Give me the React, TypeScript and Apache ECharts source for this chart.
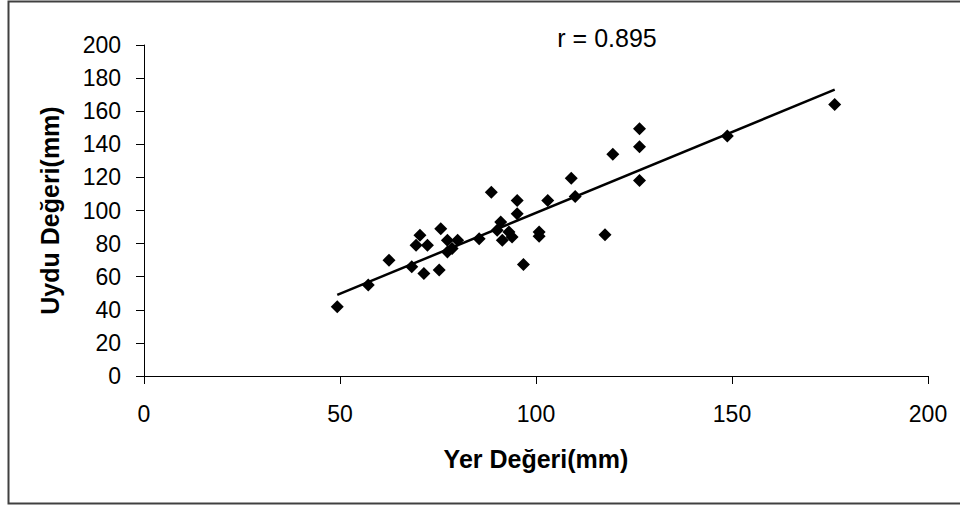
import React, { useEffect, useRef } from "react";
import * as echarts from "echarts";

const xValues = [
  49.3, 57.2, 62.5, 68.3, 69.4, 70.4, 71.4, 72.3, 75.3, 75.7, 77.4, 77.4, 78.6, 80.0,
  85.5, 88.6, 90.1, 91.0, 91.4, 93.1, 93.9, 95.2, 95.2, 96.8, 100.8, 100.8, 103.0,
  109.0, 110.0, 117.6, 119.6, 126.4, 126.4, 126.4, 148.8, 176.2,
];
const yValues = [
  41.8, 55.0, 70.0, 66.0, 79.0, 85.0, 62.0, 79.0, 64.0, 89.0, 82.0, 75.0, 77.0, 82.0,
  83.0, 111.0, 88.0, 93.0, 82.0, 87.0, 84.0, 98.0, 106.0, 67.4, 87.0, 84.5, 106.0,
  119.5, 108.5, 85.4, 134.0, 149.4, 138.5, 118.2, 145.0, 164.0,
];
const trendX = [49.3, 176.2];
const trendY = [49.0, 173.0];
const xTicks = [0, 50, 100, 150, 200];
const yTicks = [0, 20, 40, 60, 80, 100, 120, 140, 160, 180, 200];
const rLabel = "r = 0.895";
const xName = "Yer Değeri(mm)";
const yName = "Uydu Değeri(mm)";

export default function App() {
  const ref = useRef<HTMLDivElement>(null);
  useEffect(() => {
    if (!ref.current) return;
    const chart = echarts.init(ref.current, null, { renderer: "svg" });
    const font = "'Liberation Sans', Arial, sans-serif";
    chart.setOption({
      animation: false,
      backgroundColor: "#ffffff",
      grid: { left: 144, right: 32, top: 45, bottom: 130, containLabel: false },
      xAxis: {
        type: "value",
        min: xTicks[0],
        max: xTicks[xTicks.length - 1],
        interval: 50,
        splitLine: { show: false },
        axisLine: { show: true, onZero: false, lineStyle: { color: "#000", width: 1 } },
        axisTick: { show: true, length: 8, lineStyle: { color: "#000" } },
        axisLabel: { color: "#000", fontSize: 23, fontFamily: font, margin: 26 },
        name: xName,
        nameLocation: "middle",
        nameGap: 70,
        nameTextStyle: { color: "#000", fontSize: 25, fontWeight: "bold", fontFamily: font },
      },
      yAxis: {
        type: "value",
        min: yTicks[0],
        max: yTicks[yTicks.length - 1],
        interval: 20,
        splitLine: { show: false },
        axisLine: { show: true, onZero: false, lineStyle: { color: "#000", width: 1 } },
        axisTick: { show: true, length: 8, lineStyle: { color: "#000" } },
        axisLabel: { color: "#000", fontSize: 23, fontFamily: font, margin: 23 },
        name: yName,
        nameLocation: "middle",
        nameGap: 82,
        nameTextStyle: { color: "#000", fontSize: 25, fontWeight: "bold", fontFamily: font },
      },
      series: [
        {
          type: "scatter",
          data: xValues.map((x, i) => [x, yValues[i]]),
          symbol: "diamond",
          symbolSize: 13,
          itemStyle: { color: "#000", opacity: 1 },
          z: 3,
        },
        {
          type: "line",
          data: trendX.map((x, i) => [x, trendY[i]]),
          showSymbol: false,
          symbol: "none",
          lineStyle: { color: "#000", width: 2.5 },
          z: 2,
        },
      ],
      graphic: [
        {
          type: "rect",
          shape: { x: 8.5, y: 1.5, width: 960, height: 502 },
          style: { fill: "none", stroke: "#404040", lineWidth: 2 },
          silent: true,
        },
        {
          type: "text",
          x: 607,
          y: 38,
          style: {
            text: rLabel,
            fill: "#000",
            fontSize: 25,
            fontFamily: font,
            textAlign: "center",
            textVerticalAlign: "middle",
          },
        },
      ],
    });
    return () => chart.dispose();
  }, []);
  return (
    <div
      ref={ref}
      style={{ position: "fixed", left: 0, top: 0, width: 960, height: 506, background: "#fff" }}
    />
  );
}
